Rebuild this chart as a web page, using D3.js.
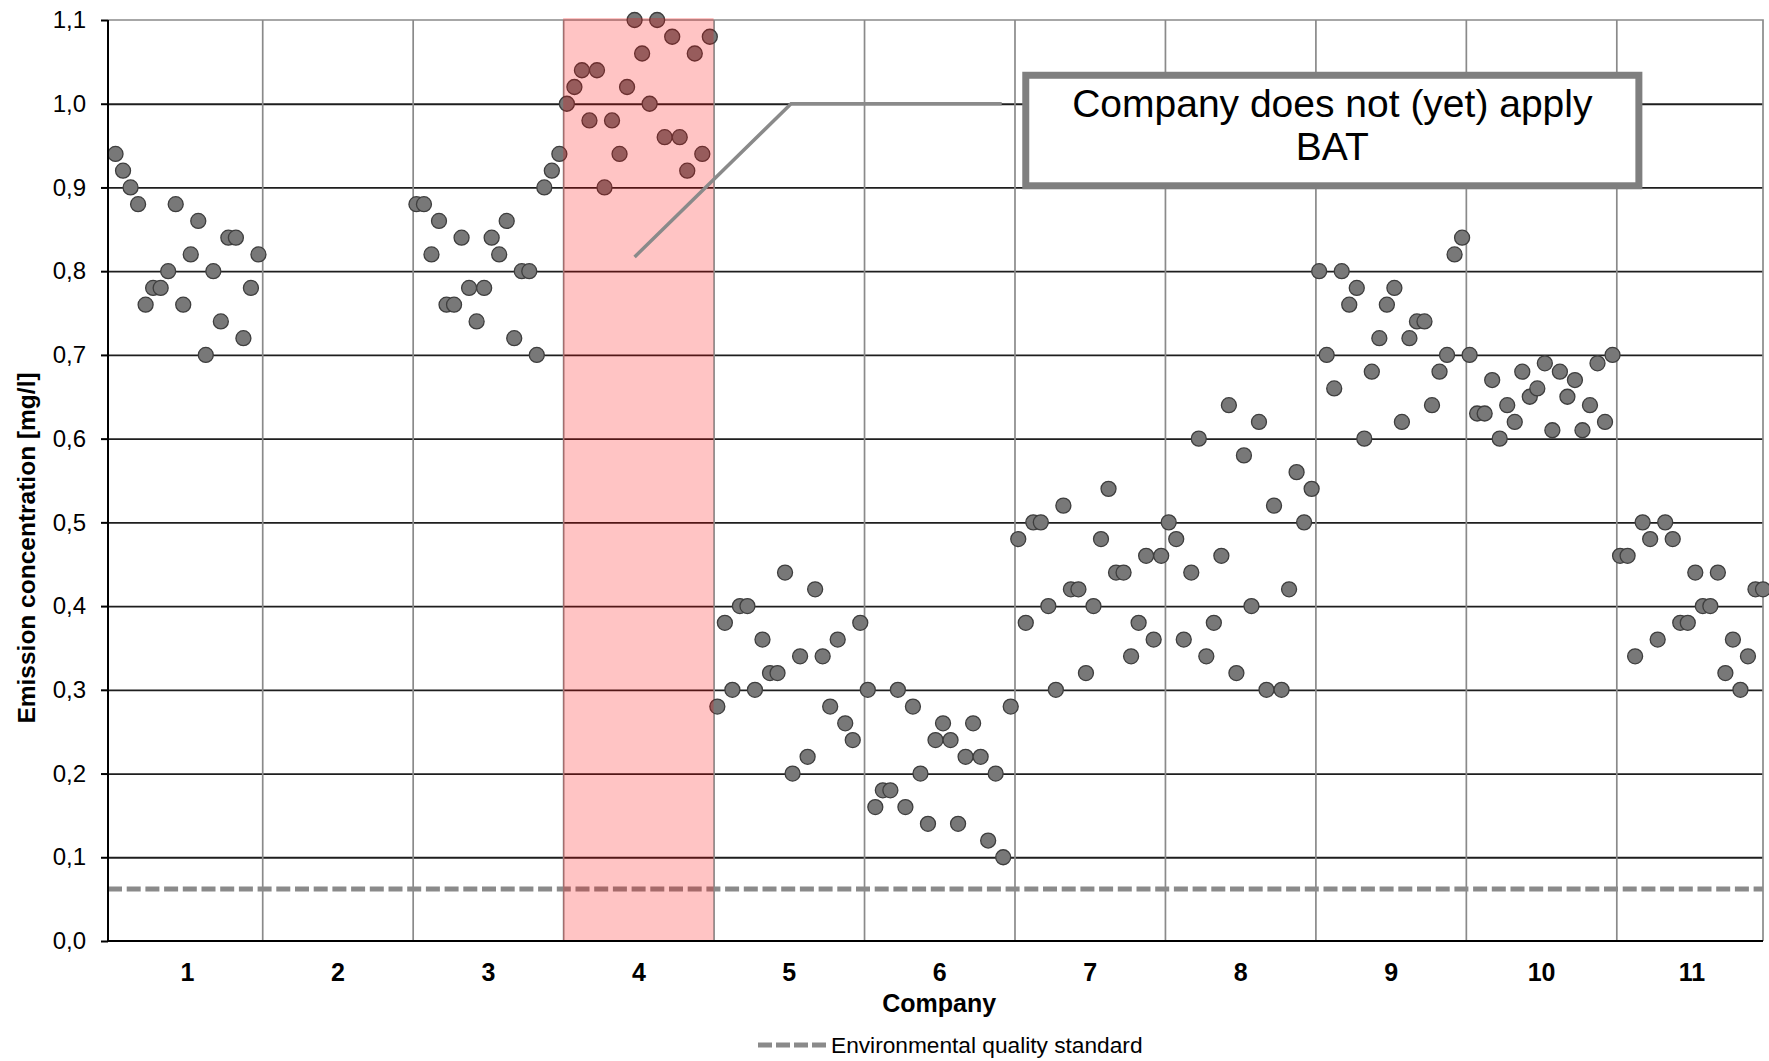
<!DOCTYPE html>
<html>
<head>
<meta charset="utf-8">
<script src="https://cdn.jsdelivr.net/npm/d3@7"></script>
<style>
  body { margin: 0; background: #fff; }
  text { font-family: "Liberation Sans", Arial, sans-serif; fill: #000; }
  .y-axis text { font-size: 24px; }
  .y-axis path, .y-axis line { stroke: #000; stroke-width: 2px; }
  .x-labels text { font-size: 25px; font-weight: bold; }
  .x-labels path, .x-labels line { display: none; }
  .h-grid line { stroke: #1e1e1e; stroke-width: 1.8px; }
  .v-grid line { stroke: #8a8a8a; stroke-width: 1.7px; }
  .h-grid path, .v-grid path, .h-grid text, .v-grid text { display: none; }
  .dot { fill: #787878; stroke: #3e3e3e; stroke-width: 1.3px; }
</style>
</head>
<body>
<div id="wrapper"></div>
<script>
// company names on the x axis
const companies = ["1", "2", "3", "4", "5", "6", "7", "8", "9", "10", "11"]
const yTicks = [0, 0.1, 0.2, 0.3, 0.4, 0.5, 0.6, 0.7, 0.8, 0.9, 1.0, 1.1]

// measurements per company, in mg/l (company 2 has no data)
const company1 = [0.94, 0.92, 0.90, 0.88, 0.76, 0.78, 0.78, 0.80, 0.88, 0.76, 0.82, 0.86, 0.70, 0.80, 0.74, 0.84, 0.84, 0.72, 0.78, 0.82]
const company2 = []
const company3 = [0.88, 0.88, 0.82, 0.86, 0.76, 0.76, 0.84, 0.78, 0.74, 0.78, 0.84, 0.82, 0.86, 0.72, 0.80, 0.80, 0.70, 0.90, 0.92, 0.94]
const company4 = [1.00, 1.02, 1.04, 0.98, 1.04, 0.90, 0.98, 0.94, 1.02, 1.10, 1.06, 1.00, 1.10, 0.96, 1.08, 0.96, 0.92, 1.06, 0.94, 1.08]
const company5 = [0.28, 0.38, 0.30, 0.40, 0.40, 0.30, 0.36, 0.32, 0.32, 0.44, 0.20, 0.34, 0.22, 0.42, 0.34, 0.28, 0.36, 0.26, 0.24, 0.38]
const company6 = [0.30, 0.16, 0.18, 0.18, 0.30, 0.16, 0.28, 0.20, 0.14, 0.24, 0.26, 0.24, 0.14, 0.22, 0.26, 0.22, 0.12, 0.20, 0.10, 0.28]
const company7 = [0.48, 0.38, 0.50, 0.50, 0.40, 0.30, 0.52, 0.42, 0.42, 0.32, 0.40, 0.48, 0.54, 0.44, 0.44, 0.34, 0.38, 0.46, 0.36, 0.46]
const company8 = [0.50, 0.48, 0.36, 0.44, 0.60, 0.34, 0.38, 0.46, 0.64, 0.32, 0.58, 0.40, 0.62, 0.30, 0.52, 0.30, 0.42, 0.56, 0.50, 0.54]
const company9 = [0.80, 0.70, 0.66, 0.80, 0.76, 0.78, 0.60, 0.68, 0.72, 0.76, 0.78, 0.62, 0.72, 0.74, 0.74, 0.64, 0.68, 0.70, 0.82, 0.84]
const company10 = [0.70, 0.63, 0.63, 0.67, 0.60, 0.64, 0.62, 0.68, 0.65, 0.66, 0.69, 0.61, 0.68, 0.65, 0.67, 0.61, 0.64, 0.69, 0.62, 0.70]
const company11 = [0.46, 0.46, 0.34, 0.50, 0.48, 0.36, 0.50, 0.48, 0.38, 0.38, 0.44, 0.40, 0.40, 0.44, 0.32, 0.36, 0.30, 0.34, 0.42, 0.42]

const environmentalStandard = 0.062
const highlightedCompany = "4"
const calloutText = ["Company does not (yet) apply", "BAT"]
// callout path and box in data units (measurement index, mg/l)
const calloutLine = [[70, 0.817], [90.8, 1.0], [118.8, 1.0]]
const calloutBox = { x0: 122, x1: 203.5, y0: 1.034, y1: 0.902 }

function drawChart() {
  const seriesValues = [company1, company2, company3, company4, company5, company6,
    company7, company8, company9, company10, company11]
  const perCompany = 20

  const dataset = []
  seriesValues.forEach((values, ci) => {
    values.forEach((v, i) => {
      dataset.push({ company: companies[ci], index: ci * perCompany + i + 1, value: v })
    })
  })
  const xAccessor = d => d.index
  const yAccessor = d => d.value

  let dimensions = {
    width: 1769,
    height: 1061,
    margin: { top: 20, right: 6, bottom: 120, left: 108 },
  }
  dimensions.boundedWidth = dimensions.width - dimensions.margin.left - dimensions.margin.right
  dimensions.boundedHeight = dimensions.height - dimensions.margin.top - dimensions.margin.bottom

  const wrapper = d3.select("#wrapper")
    .append("svg")
      .attr("width", dimensions.width)
      .attr("height", dimensions.height)

  const bounds = wrapper.append("g")
      .attr("transform", `translate(${dimensions.margin.left}, ${dimensions.margin.top})`)

  // scales
  const xScale = d3.scaleLinear()
    .domain([0, companies.length * perCompany])
    .range([0, dimensions.boundedWidth])

  const yScale = d3.scaleLinear()
    .domain([0, 1.1])
    .range([dimensions.boundedHeight, 0])

  const locale = d3.formatLocale({ decimal: ",", thousands: ".", grouping: [3], currency: ["", ""] })
  const tickFormat = locale.format(".1f")

  // grid lines
  bounds.append("g")
      .attr("class", "h-grid")
    .call(d3.axisLeft(yScale).tickValues(yTicks.slice(1, -1)).tickSize(-dimensions.boundedWidth).tickFormat(""))

  const separators = companies.slice(1).map((c, i) => (i + 1) * perCompany + 0.5)
  bounds.append("g")
      .attr("class", "v-grid")
      .attr("transform", `translate(0, ${dimensions.boundedHeight})`)
    .call(d3.axisBottom(xScale).tickValues(separators).tickSize(-dimensions.boundedHeight).tickFormat(""))

  // top and right border
  bounds.append("path")
      .attr("d", `M0,${yScale(1.1)}H${xScale(220)}V${yScale(0)}`)
      .attr("fill", "none")
      .attr("stroke", "#8a8a8a")
      .attr("stroke-width", 1.7)

  // environmental quality standard
  bounds.append("line")
      .attr("x1", 0)
      .attr("x2", dimensions.boundedWidth)
      .attr("y1", yScale(environmentalStandard))
      .attr("y2", yScale(environmentalStandard))
      .attr("stroke", "#8a8a8a")
      .attr("stroke-width", 5)
      .attr("stroke-dasharray", "14,4.7")

  // points
  bounds.append("g")
    .selectAll("circle")
    .data(dataset)
    .join("circle")
      .attr("class", "dot")
      .attr("cx", d => xScale(xAccessor(d)))
      .attr("cy", d => yScale(yAccessor(d)))
      .attr("r", 7.5)

  // highlighted company
  const hi = companies.indexOf(highlightedCompany)
  bounds.append("rect")
      .attr("x", xScale(hi * perCompany + 0.5))
      .attr("y", yScale(1.1) - 2)
      .attr("width", xScale(perCompany) - xScale(0))
      .attr("height", yScale(0) - yScale(1.1) + 2)
      .attr("fill", "rgba(255, 0, 0, 0.23)")

  // y axis
  const yAxis = bounds.append("g")
      .attr("class", "y-axis")
    .call(d3.axisLeft(yScale).tickValues(yTicks).tickSize(7).tickPadding(15).tickFormat(tickFormat))
  yAxis.select(".domain").attr("d", `M0,${yScale(0)}V${yScale(1.1)}`)

  // x baseline
  bounds.append("line")
      .attr("x1", 0)
      .attr("x2", dimensions.boundedWidth)
      .attr("y1", yScale(0))
      .attr("y2", yScale(0))
      .attr("stroke", "#000")
      .attr("stroke-width", 2)

  // company labels
  bounds.append("g")
      .attr("class", "x-labels")
      .attr("transform", `translate(0, ${dimensions.boundedHeight})`)
    .call(d3.axisBottom(xScale)
      .tickValues(companies.map((c, i) => i * perCompany + perCompany / 2 + 0.5))
      .tickSize(0)
      .tickPadding(22)
      .tickFormat((d, i) => companies[i]))

  bounds.append("text")
      .attr("x", xScale(110.5))
      .attr("y", dimensions.boundedHeight + 71)
      .attr("text-anchor", "middle")
      .style("font-size", "25px")
      .style("font-weight", "bold")
      .text("Company")

  wrapper.append("text")
      .attr("transform", `translate(35, 548) rotate(-90)`)
      .attr("text-anchor", "middle")
      .style("font-size", "24.5px")
      .style("font-weight", "bold")
      .text("Emission concentration [mg/l]")

  // callout
  bounds.append("path")
      .attr("d", d3.line().x(d => xScale(d[0])).y(d => yScale(d[1]))(calloutLine))
      .attr("fill", "none")
      .attr("stroke", "#8a8a8a")
      .attr("stroke-width", 3.5)

  const bx = xScale(calloutBox.x0)
  const by = yScale(calloutBox.y0)
  const bw = xScale(calloutBox.x1) - bx
  const bh = yScale(calloutBox.y1) - by
  bounds.append("rect")
      .attr("x", bx)
      .attr("y", by)
      .attr("width", bw)
      .attr("height", bh)
      .attr("fill", "#fff")
      .attr("stroke", "#7f7f7f")
      .attr("stroke-width", 7)

  bounds.append("g")
    .selectAll("text")
    .data(calloutText)
    .join("text")
      .attr("x", bx + bw / 2)
      .attr("y", (d, i) => by + 42 + i * 43)
      .attr("text-anchor", "middle")
      .style("font-size", "39px")
      .text(d => d)

  // legend
  const legend = wrapper.append("g")
      .attr("transform", "translate(758, 1045)")
  legend.append("line")
      .attr("x1", 0)
      .attr("x2", 71)
      .attr("stroke", "#8a8a8a")
      .attr("stroke-width", 5)
      .attr("stroke-dasharray", "14,4")
  legend.append("text")
      .attr("x", 73)
      .attr("dy", "0.36em")
      .style("font-size", "22.7px")
      .text("Environmental quality standard")
}
drawChart()
</script>
</body>
</html>
